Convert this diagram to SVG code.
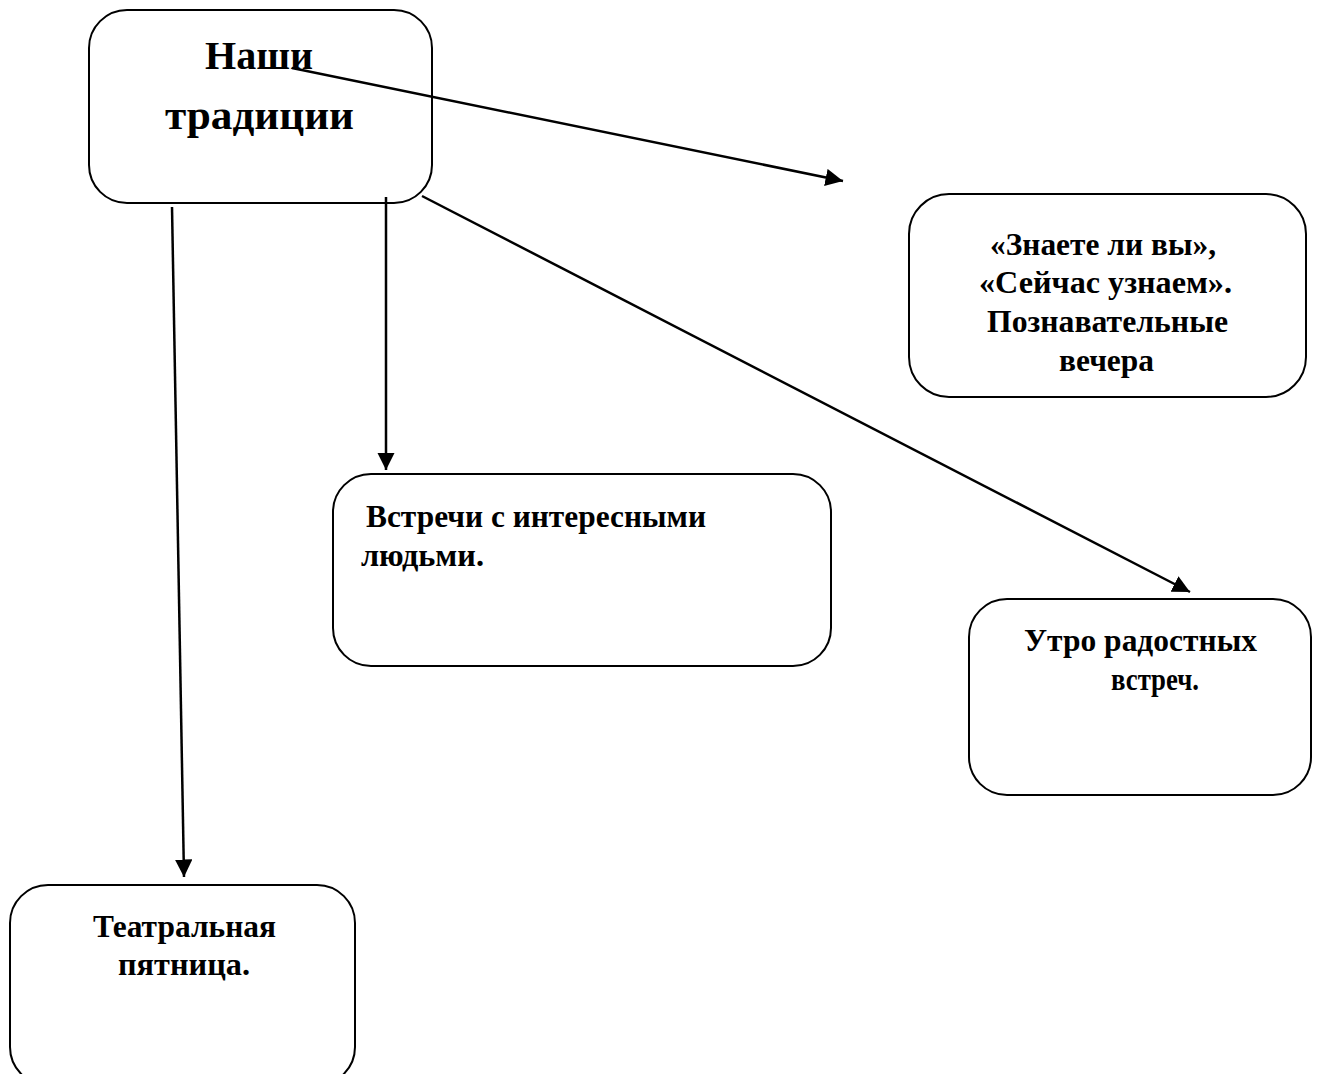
<svg xmlns="http://www.w3.org/2000/svg" width="1320" height="1074" viewBox="0 0 1320 1074">
<defs>
<style>
.box{fill:#fff;stroke:#000;stroke-width:2}
.t{font-family:"Liberation Serif","Times New Roman",serif;font-weight:bold;fill:#000}
.big{font-size:40px}
.sm{font-size:31px}
.c{stroke:#000;stroke-width:2.5;fill:none}
</style>
<marker id="ah" viewBox="0 0 10 10" refX="10" refY="5" markerWidth="7" markerHeight="7" markerUnits="strokeWidth" orient="auto">
<path d="M0,0 L10,5 L0,10 z" fill="#000"/>
</marker>
</defs>
<g id="n-main">
<rect class="box" x="89" y="10" width="343" height="193" rx="38"/>
<text class="t big" x="205" y="69" textLength="108" lengthAdjust="spacingAndGlyphs">Наши</text>
<text class="t big" x="165" y="129" textLength="189" lengthAdjust="spacingAndGlyphs">традиции</text>
</g>
<g id="n-znaete">
<rect class="box" x="909" y="194" width="397" height="203" rx="40"/>
<text class="t sm" x="990" y="255" textLength="226" lengthAdjust="spacingAndGlyphs">«Знаете ли вы»,</text>
<text class="t sm" x="979" y="293" textLength="253" lengthAdjust="spacingAndGlyphs">«Сейчас узнаем».</text>
<text class="t sm" x="987" y="332" textLength="241" lengthAdjust="spacingAndGlyphs">Познавательные</text>
<text class="t sm" x="1059" y="371" textLength="95" lengthAdjust="spacingAndGlyphs">вечера</text>
</g>
<g id="n-vstrechi">
<rect class="box" x="333" y="474" width="498" height="192" rx="38"/>
<text class="t sm" x="366" y="527" textLength="340" lengthAdjust="spacingAndGlyphs">Встречи с интересными</text>
<text class="t sm" x="361" y="566" textLength="123" lengthAdjust="spacingAndGlyphs">людьми.</text>
</g>
<g id="n-utro">
<rect class="box" x="969" y="599" width="342" height="196" rx="38"/>
<text class="t sm" x="1024" y="651" textLength="233" lengthAdjust="spacingAndGlyphs">Утро радостных</text>
<text class="t sm" x="1111" y="690" textLength="88" lengthAdjust="spacingAndGlyphs">встреч.</text>
</g>
<g id="n-teatr">
<rect class="box" x="10" y="885" width="345" height="200" rx="38"/>
<text class="t sm" x="93" y="937" textLength="183" lengthAdjust="spacingAndGlyphs">Театральная</text>
<text class="t sm" x="118" y="975" textLength="132" lengthAdjust="spacingAndGlyphs">пятница.</text>
</g>
<g id="connectors">
<line class="c" x1="292" y1="68" x2="843" y2="181" marker-end="url(#ah)"/>
<line class="c" x1="386" y1="197" x2="386" y2="470" marker-end="url(#ah)"/>
<line class="c" x1="422" y1="196" x2="1190" y2="592" marker-end="url(#ah)"/>
<line class="c" x1="172" y1="207" x2="184" y2="877" marker-end="url(#ah)"/>
</g>
</svg>
